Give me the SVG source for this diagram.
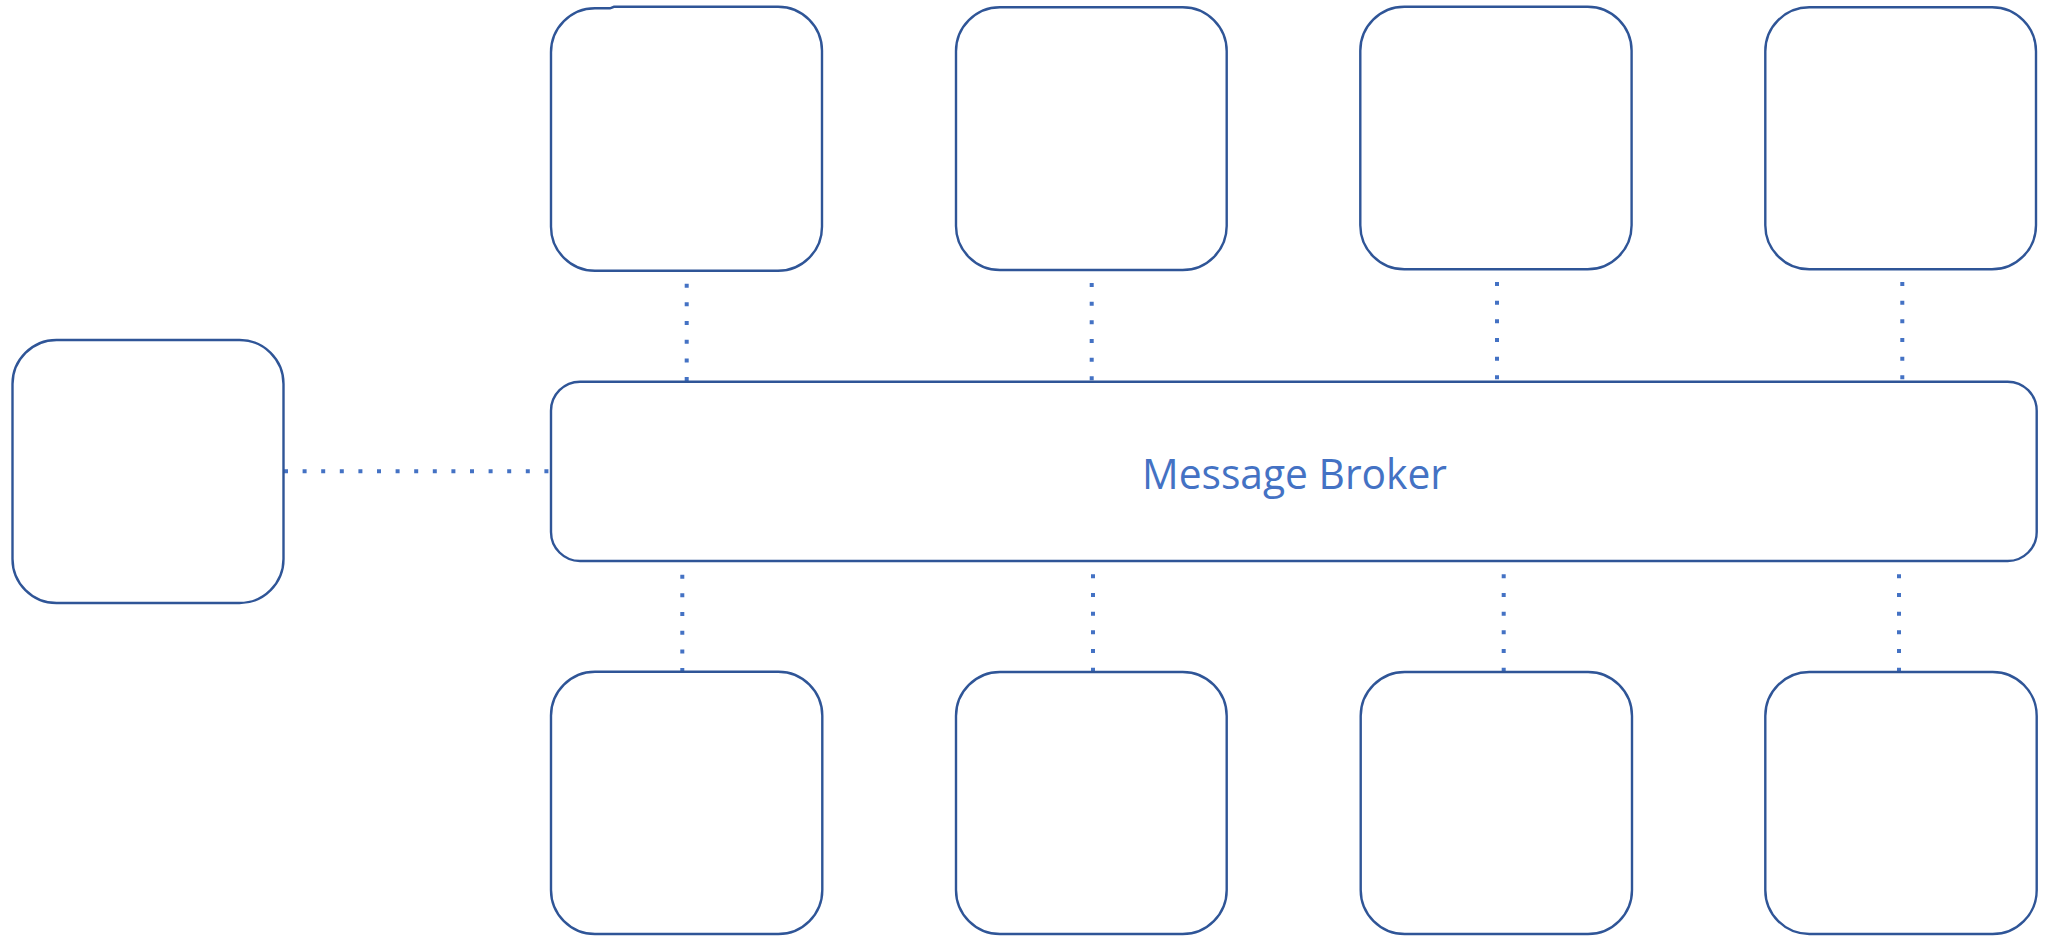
<svg xmlns="http://www.w3.org/2000/svg" width="2055" height="936" viewBox="0 0 2055 936">
<style>
.box{fill:#FFFFFF;stroke:#2F5597;stroke-width:2.4}
.dot{fill:none;stroke:#4472C4;stroke-width:4;stroke-dasharray:4 14.67}
.lbl{font-family:"Open Sans","Noto Sans","Liberation Sans",sans-serif;font-size:42px;fill:#4472C4}
</style>
<rect width="2055" height="936" fill="#FFFFFF"/>
<g id="connectors">
<line class="dot" x1="284" y1="471.3" x2="551" y2="471.3" style="stroke-dasharray:4 14.6"/>
<line class="dot" x1="686.7" y1="283.7" x2="686.7" y2="381"/>
<line class="dot" x1="1091.7" y1="283" x2="1091.7" y2="380.3"/>
<line class="dot" x1="1497" y1="282" x2="1497" y2="380"/>
<line class="dot" x1="1902.3" y1="282" x2="1902.3" y2="379.3"/>
<line class="dot" x1="682.3" y1="574.7" x2="682.3" y2="671.7"/>
<line class="dot" x1="1093" y1="574.3" x2="1093" y2="671.3"/>
<line class="dot" x1="1503.7" y1="574.3" x2="1503.7" y2="671.3"/>
<line class="dot" x1="1899" y1="574.3" x2="1899" y2="671.3"/>
</g>
<g id="node-left">
<rect class="box" x="12.5" y="340" width="271" height="263" rx="44" ry="44"/>
</g>
<g id="node-top-1">
<path class="box" d="M551,52.3 A44,44 0 0 1 595,8.3 L610,8.3 L614,6.8 L778,6.8 A44,44 0 0 1 822,50.8 L822,226.7 A44,44 0 0 1 778,270.7 L595,270.7 A44,44 0 0 1 551,226.7 Z"/>
</g>
<g id="node-top-2">
<rect class="box" x="956" y="7.3" width="270.7" height="262.7" rx="44" ry="44"/>
</g>
<g id="node-top-3">
<rect class="box" x="1360.3" y="6.8" width="271.3" height="262.5" rx="44" ry="44"/>
</g>
<g id="node-top-4">
<rect class="box" x="1765.3" y="7.3" width="270.7" height="262" rx="44" ry="44"/>
</g>
<g id="node-broker">
<rect class="box" x="551" y="381.7" width="1485.7" height="179.3" rx="29" ry="29"/>
<text class="lbl" x="1142" y="489.3" textLength="305" lengthAdjust="spacingAndGlyphs">Message Broker</text>
</g>
<g id="node-bottom-1">
<rect class="box" x="551" y="671.8" width="271.3" height="262.2" rx="44" ry="44"/>
</g>
<g id="node-bottom-2">
<rect class="box" x="956" y="672" width="270.7" height="262" rx="44" ry="44"/>
</g>
<g id="node-bottom-3">
<rect class="box" x="1360.7" y="672" width="271.3" height="262" rx="44" ry="44"/>
</g>
<g id="node-bottom-4">
<rect class="box" x="1765.3" y="672" width="271.4" height="262" rx="44" ry="44"/>
</g>
</svg>
